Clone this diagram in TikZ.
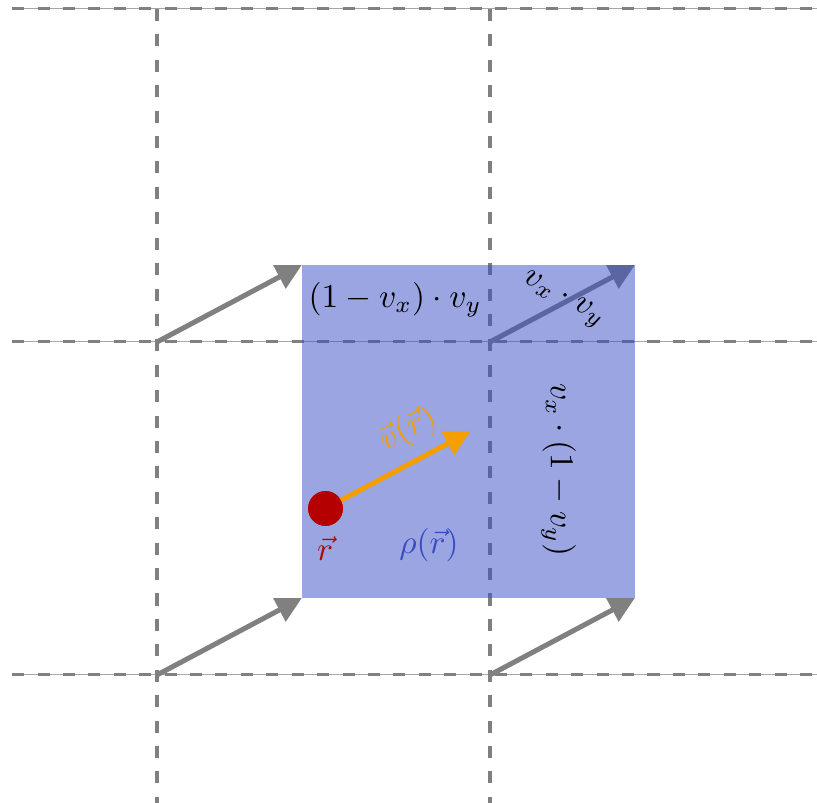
\documentclass[tikz,border=0pt]{standalone}
\usetikzlibrary{arrows.meta}
\definecolor{mblue}{RGB}{55,75,195}
\definecolor{morange}{RGB}{245,158,0}
\definecolor{mred}{RGB}{180,0,0}
\begin{document}
\begin{tikzpicture}[x=3.5cm,y=3.5cm,
  gridline/.style={gray, line width=0.9pt, dash pattern=on 3.6pt off 4pt},
  thinline/.style={gray!70, line width=0.3pt},
  vecarrow/.style={line width=1.5pt, -{Triangle[length=7.6pt,width=7.6pt]}},
  lbl/.style={inner sep=1pt}]
\useasboundingbox (-0.4715,-0.3844) rectangle (1.982,2.027);
% grid coordinates
\foreach \j in {0,1,2}{
  \coordinate (hl\j) at (-0.435,\j);
  \coordinate (hr\j) at (2.02,\j);
}
\foreach \i in {0,1}{
  \coordinate (vt\i) at (\i,2);
  \coordinate (vb\i) at (\i,-0.42);
}
\foreach \j in {0,1,2}{
  \draw[thinline] (hl\j) -- (hr\j);
  \draw[gridline] (hl\j) -- (hr\j);
}
\foreach \i in {0,1}{
  \draw[gridline] (vt\i) -- (vb\i);
}
% cell corners and displaced corners
\coordinate (c00) at (0,0);
\coordinate (c10) at (1,0);
\coordinate (c01) at (0,1);
\coordinate (c11) at (1,1);
\coordinate (d00) at (0.435,0.231);
\coordinate (d10) at (1.435,0.231);
\coordinate (d01) at (0.435,1.231);
\coordinate (d11) at (1.435,1.231);
\draw[vecarrow, gray] (c00) -- (d00);
\draw[vecarrow, gray] (c10) -- (d10);
\draw[vecarrow, gray] (c01) -- (d01);
\draw[vecarrow, gray] (c11) -- (d11);
% displaced cell
\fill[mblue, fill opacity=0.5] (d00) rectangle (d11);
% velocity at r
\coordinate (rv) at (0.941,0.731);
\node[circle, fill=mred, inner sep=0pt, minimum size=10.4pt] (dot) at (0.506,0.5) {};
\draw[vecarrow, morange] (dot.center) -- (rv);
\node[circle, fill=mred, inner sep=0pt, minimum size=10.4pt] at (dot.center) {};
% labels
\node[lbl] (wtl) at (0.715,1.126) {$(1-v_x)\cdot v_y$};
\node[lbl, rotate=-28] (wtr) at (1.219,1.126) {$v_x\cdot v_y$};
\node[lbl, rotate=-90] (wbr) at (1.206,0.616) {$v_x\cdot(1-v_y)$};
\node[lbl, rotate=28, text=morange] (vlab) at (0.754,0.736) {$\vec v(\vec r)$};
\node[lbl, text=mred] (rlab) at (0.505,0.381) {$\vec r$};
\node[lbl, text=mblue] (rholab) at (0.817,0.39) {$\rho(\vec r)$};
\end{tikzpicture}
\end{document}
